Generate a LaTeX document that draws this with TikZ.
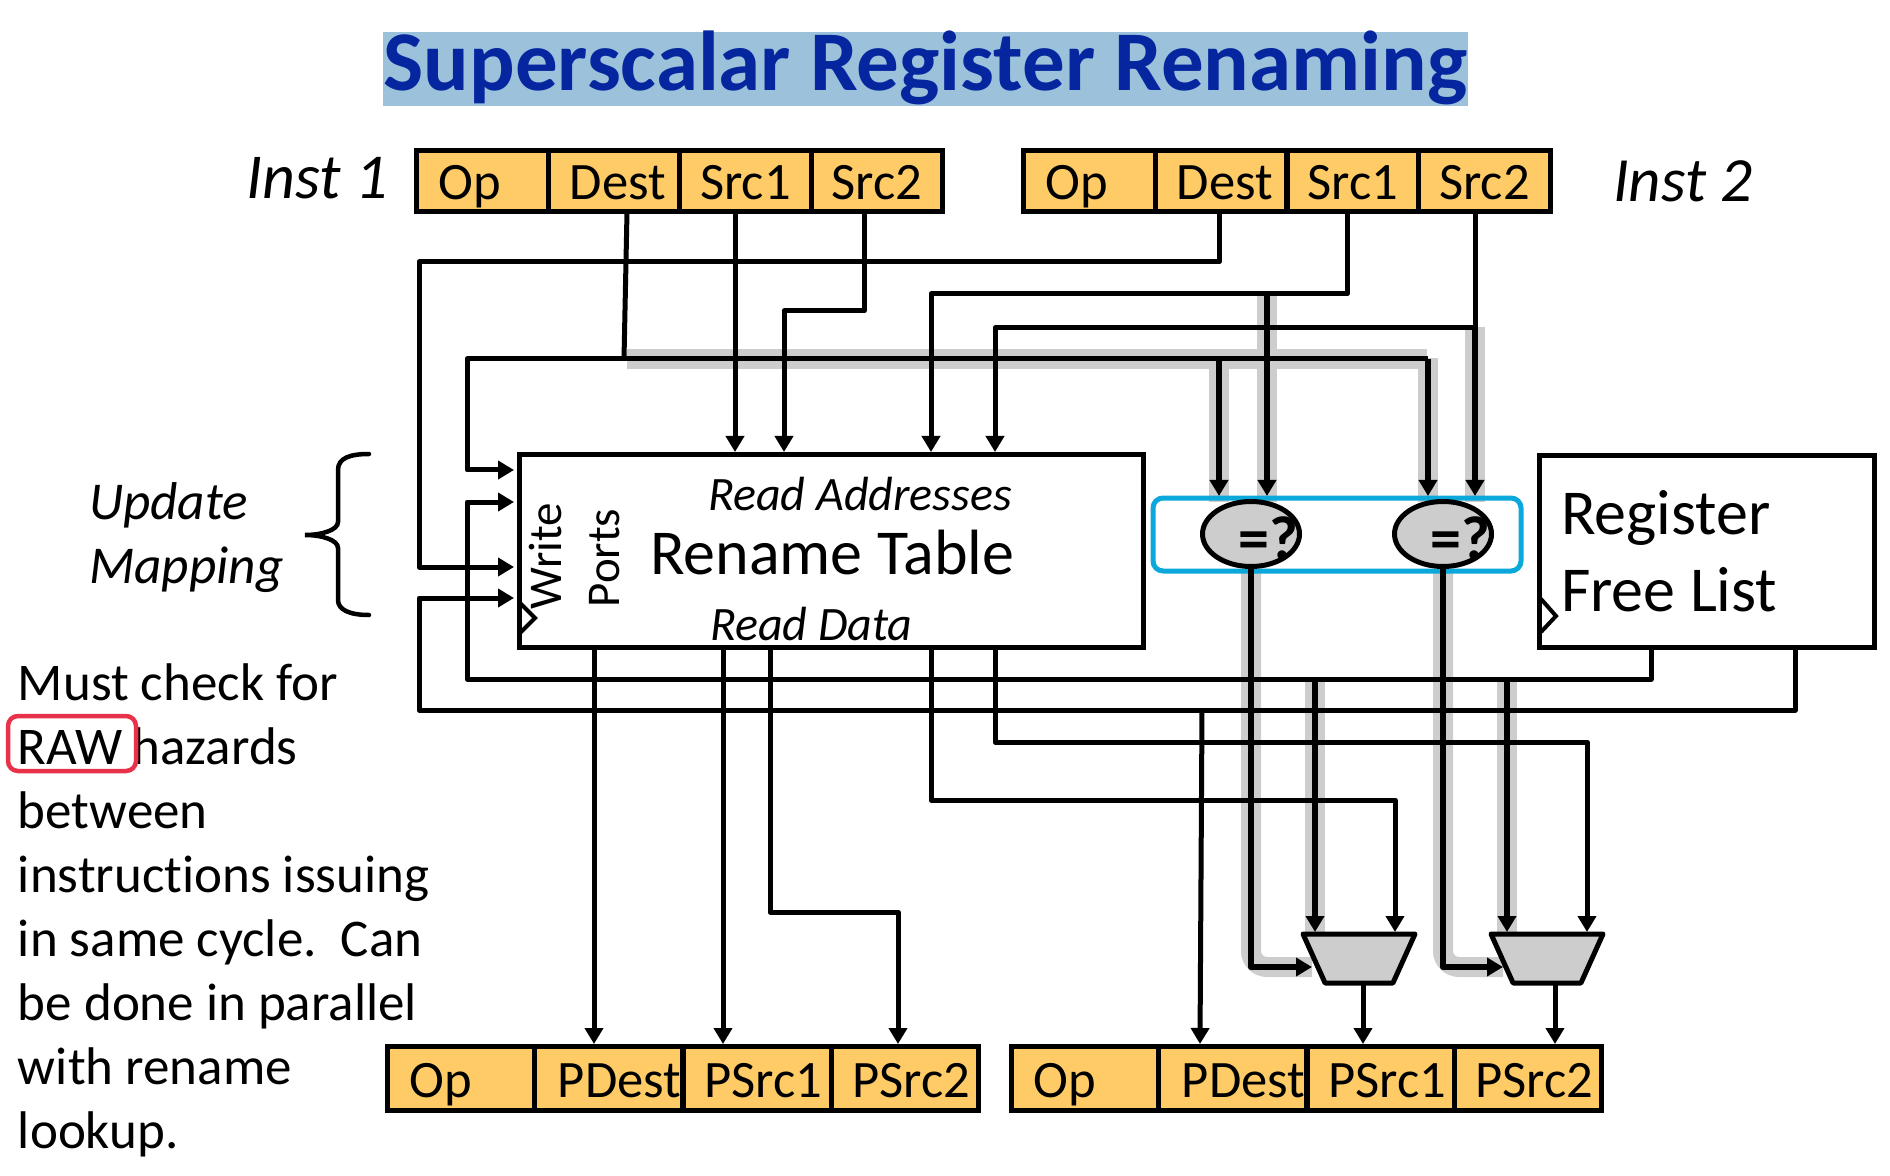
\documentclass[tikz,border=0pt]{standalone}
\usepackage{fontspec}
\setmainfont[Ligatures=NoCommon]{Carlito}
\usetikzlibrary{arrows.meta,shapes.geometric}
\definecolor{cellc}{HTML}{FECB66}
\definecolor{greyw}{HTML}{CDCDCD}
\definecolor{titleb}{HTML}{05269E}
\definecolor{titlebg}{HTML}{9BC1DB}
\definecolor{cmpblue}{HTML}{0BA8DC}
\definecolor{rawred}{HTML}{E8324A}
\newcommand{\fs}[1]{\fontsize{#1}{#1}\selectfont}
\tikzset{
 wire/.style={draw=black,line width=2.5pt,line join=round,-{Triangle[length=8pt,width=9pt]}},
 plain/.style={draw=black,line width=2.5pt,line join=round},
 heavy/.style={draw=black,line width=3.2pt,line join=round,-{Triangle[length=8pt,width=9pt]}},
 shade/.style={draw=greyw,line width=10pt},
 cellbase/.style={draw=black,fill=cellc,line width=2.5pt,inner sep=0pt,outer sep=0pt,font=\fs{26.3}},
 topcell/.style={cellbase,minimum width=65.75pt,minimum height=30.5pt,text height=20.6pt,text depth=2.5pt},
 botcell/.style={cellbase,minimum width=73.8pt,minimum height=32pt,text height=21pt,text depth=2pt},
 bigbox/.style={draw=black,fill=white,line width=2.5pt,inner sep=0pt,outer sep=0pt},
 cmp/.style={ellipse,draw=black,fill=greyw,line width=2.5pt,minimum width=48.5pt,minimum height=32.5pt,inner sep=0pt,outer sep=0pt,font=\fs{31}\bfseries},
 mux/.style={trapezium,trapezium stretches=true,trapezium angle=72,shape border rotate=180,draw=black,fill=greyw,line width=2.5pt,line join=round,minimum width=56pt,minimum height=24.5pt,inner sep=0pt,outer sep=0pt},
 lab/.style={inner sep=0pt,outer sep=0pt,anchor=base west},
}
\begin{document}
\begin{tikzpicture}[x=0.5pt,y=-0.5pt]
\useasboundingbox (0,0) rectangle (1890,1176);
\foreach \v in {419,467,514,594,624,627,723,735,770,784,864,898,931,995,1200,1202,1219,1251,1267,1312,1315,1347,1363,1395,1428,1443,1475,1503,1507,1555,1587,1651,1795}
  \coordinate (x\v) at (\v,0);
\foreach \v in {262,294,311,328,359,452,470,496,502,567,598,679,710,711,742,800,912,932,967,1044}
  \coordinate (y\v) at (0,\v);

% title
\node[fill=titlebg,inner sep=0pt,minimum width=542.5pt,minimum height=37pt] (titlebar) at (925.5,69) {};
\node[inner sep=0pt,anchor=base,font=\fs{42.5}\bfseries,text=titleb] (title) at (925.5,91) {Superscalar Register Renaming};

% instruction cells
\node[topcell] (i1op) at (482.5,181.5) {\kern-13pt Op};
\node[topcell] (i1dest) at (614,181.5) {\kern4pt Dest};
\node[topcell] (i1s1) at (745.5,181.5) {Src1};
\node[topcell] (i1s2) at (877,181.5) {Src2};
\node[topcell] (i2op) at (1089.5,181.5) {\kern-13pt Op};
\node[topcell] (i2dest) at (1221,181.5) {\kern4pt Dest};
\node[topcell] (i2s1) at (1353,181.5) {Src1};
\node[topcell] (i2s2) at (1484.5,181.5) {Src2};
\node[botcell] (b1op) at (461,1078) {\kern-20pt Op};
\node[botcell] (b1d) at (608.5,1078) {\kern11pt PDest};
\node[botcell] (b1s1) at (757.5,1078) {\kern6pt PSrc1};
\node[botcell] (b1s2) at (905,1078) {\kern6pt PSrc2};
\node[botcell] (b2op) at (1085,1078) {\kern-20pt Op};
\node[botcell] (b2d) at (1232.5,1078) {\kern11pt PDest};
\node[botcell] (b2s1) at (1381,1078) {\kern6pt PSrc1};
\node[botcell] (b2s2) at (1528,1078) {\kern6pt PSrc2};

% grey shadow paths
\draw[shade] (627,359) -- (1427,359);
\draw[shade] (1428,358) -- (1428,502);
\draw[shade] (1219,359) -- (1219,502);
\draw[shade] (1267,294) -- (1267,502);
\draw[shade] (1475,327) -- (1475,502);
\draw[shade,rounded corners=8pt] (1251,573) |- (1312,967);
\draw[shade,rounded corners=8pt] (1443,573) |- (1503,967);
\draw[shade] (1315,678) -- (1315,933);
\draw[shade] (1507,678) -- (1507,933);

% boxes
\node[bigbox,minimum width=312pt,minimum height=96pt] (tbl) at (831,551) {};
\node[bigbox,minimum width=167.5pt,minimum height=95.5pt] (free) at (1706.5,551.5) {};
\draw[draw=cmpblue,line width=2.5pt,rounded corners=5pt] (1153,498) rectangle (1521,571);
\node[cmp] (cmp1) at (1251,534) {\smash{\makebox[0pt]{\kern17pt\raisebox{-13pt}{=?}}}};
\node[cmp] (cmp2) at (1443,534) {\smash{\makebox[0pt]{\kern17pt\raisebox{-13pt}{=?}}}};
\node[mux] (mux1) at (1359,958.5) {\rule{4pt}{0pt}\rule{0pt}{4pt}};
\node[mux] (mux2) at (1547,958.5) {\rule{4pt}{0pt}\rule{0pt}{4pt}};

% clock marks
\draw[line width=2pt,line join=miter] (520,603) -- (535,618) -- (520,633);
\draw[line width=2pt,line join=miter] (1541,599) -- (1556,616) -- (1541,632);

% wires
\draw[wire] (x1219 |- i2dest.south) |- (x419 |- y262) |- (x514 |- y567);
\draw[wire] (x1347 |- i2s1.south) |- (x931 |- y294) -- (x931 |- y452);
\draw[heavy] (x1267 |- y294) -- (x1267 |- y496);
\draw[plain] (x1475 |- i2s2.south) -- (x1475 |- y328);
\draw[heavy] (x1475 |- y328) -- (x1475 |- y496);
\draw[wire] (x1475 |- y328) -| (x995 |- y452);
\draw[plain] (x627 |- i1dest.south) -- (x624 |- y359);
\draw[wire] (x624 |- y359) -| (x467 |- y470) -- (x514 |- y470);
\draw[plain] (x624 |- y359) -- (x1428 |- y359);
\draw[heavy] (x1428 |- y359) -- (x1428 |- y496);
\draw[heavy] (x1219 |- y359) -- (x1219 |- y496);
\draw[wire] (x735 |- i1s1.south) -- (x735 |- y452);
\draw[wire] (x864 |- i1s2.south) |- (x784 |- y311) -- (x784 |- y452);
\draw[wire] (x1651 |- free.south) |- (x467 |- y679) |- (x514 |- y502);
\draw[wire] (x1795 |- free.south) |- (x419 |- y710) |- (x514 |- y598);
\draw[heavy] (x1315 |- y679) -- (x1315 |- y932);
\draw[heavy] (x1507 |- y679) -- (x1507 |- y932);
\draw[wire] (x1202 |- y710) -- (x1200 |- y1044);
\draw[wire] (x594 |- tbl.south) -- (x594 |- y1044);
\draw[wire] (x723 |- tbl.south) -- (x723 |- y1044);
\draw[wire] (x770 |- tbl.south) |- (x898 |- y912) -- (x898 |- y1044);
\draw[wire] (x931 |- tbl.south) |- (x1395 |- y800) -- (x1395 |- y932);
\draw[wire] (x995 |- tbl.south) |- (x1587 |- y742) -- (x1587 |- y932);
\draw[heavy] (x1251 |- cmp1.south) |- (x1312 |- y967);
\draw[heavy] (x1443 |- cmp2.south) |- (x1503 |- y967);
\draw[wire] (x1363 |- mux1.south) -- (x1363 |- y1044);
\draw[wire] (x1555 |- mux2.south) -- (x1555 |- y1044);

% brace
\draw[line width=2.25pt,line cap=round] (369,454) .. controls (350,454) and (338,458) .. (338,470) -- (338,522) .. controls (338,530) and (322,535) .. (305,535) .. controls (322,535) and (338,540) .. (338,548) -- (338,600) .. controls (338,610) and (350,615) .. (369,615);

% labels
\node[lab,font=\fs{32}\itshape] (inst1) at (246,199) {Inst 1};
\node[lab,font=\fs{31.5}\itshape] (inst2) at (1613,202) {Inst 2};
\node[lab,font=\fs{26.6}\itshape] (upd) at (89,519) {Update};
\node[lab,font=\fs{26.6}\itshape] (map) at (89,583) {Mapping};
\node[lab,font=\fs{24}\itshape] (readaddr) at (708,510) {Read Addresses};
\node[lab,font=\fs{32}] (rntbl) at (650,574) {Rename Table};
\node[lab,font=\fs{24}\itshape] (readdata) at (710,640) {Read Data};
\node[inner sep=0pt,rotate=90,anchor=base,font=\fs{23.5}] (write) at (561,556) {Write};
\node[inner sep=0pt,rotate=90,anchor=base,font=\fs{23.5}] (ports) at (619,558) {Ports};
\node[lab,font=\fs{32}] (reg) at (1561,534) {Register};
\node[lab,font=\fs{32}] (freel) at (1561,611) {Free List};
\node[lab,align=left,font=\fontsize{26.5}{32}\selectfont] (note) at (18,1148) {Must check for\\RAW\kern5pt hazards\\between\\instructions issuing\\in same cycle.\ \ Can\\be done in parallel\\with rename\\lookup.};
\draw[draw=rawred,line width=2.25pt,rounded corners=5pt] (8,716) rectangle (136,771);
\end{tikzpicture}
\end{document}
